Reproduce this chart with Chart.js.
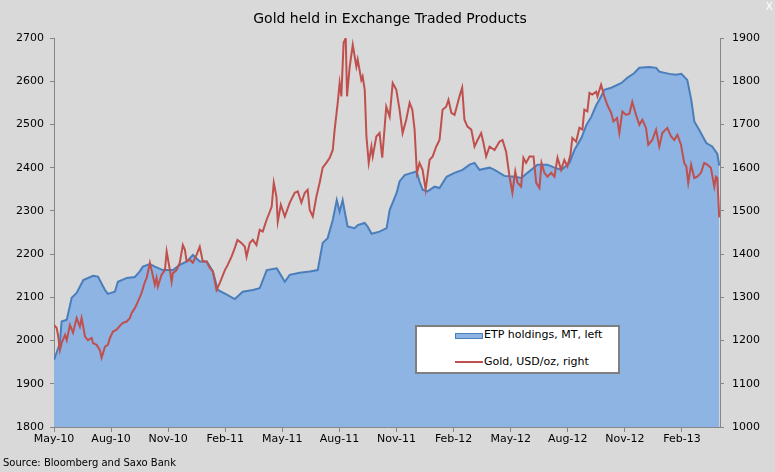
<!DOCTYPE html>
<html>
<head>
<meta charset="utf-8">
<script src="https://cdn.jsdelivr.net/npm/chart.js@4"></script>
<style>
  body { margin: 0; background: #d9d9d9; }
  #wrap { position: relative; width: 775px; height: 472px; background: #d9d9d9; }
  #legend { position: absolute; left: 415px; top: 325px; width: 201px; height: 45px; background: #fff; border: 2px solid #7f7f7f; font: 11px "DejaVu Sans", sans-serif; color: #000; }
  #legend .sw1 { position: absolute; left: 38px; top: 6px; width: 26px; height: 4px; background: #8db4e3; border: 1px solid #4a7ebb; }
  #legend .sw2 { position: absolute; left: 38px; top: 34px; width: 28px; height: 2px; background: #c0504d; }
  #legend .t { position: absolute; left: 67px; white-space: nowrap; }
  #close { position: absolute; right: 2px; top: 0px; font: 11px "DejaVu Sans", sans-serif; color: #fff; }
</style>
</head>
<body>
<div id="wrap">
  <canvas id="canvas" width="775" height="472"></canvas>
  <div id="legend">
    <div class="sw1"></div><div class="t" style="top:1px">ETP holdings, MT, left</div>
    <div class="sw2"></div><div class="t" style="top:28px">Gold, USD/oz, right</div>
  </div>
  <div id="close">X</div>
</div>
<script>
// quarterly axis labels, one every 3 months starting May-10
var tickLabels = ['May-10', 'Aug-10', 'Nov-10', 'Feb-11', 'May-11', 'Aug-11',
                  'Nov-11', 'Feb-12', 'May-12', 'Aug-12', 'Nov-12', 'Feb-13'];

// ETP holdings (MT) - x in months since May-10
var etpMonths = [
  0, 0.31, 0.40, 0.67, 0.93, 1.19, 1.54, 2.05, 2.31, 2.68,
  2.83, 3.20, 3.36, 3.83, 4.25, 4.51, 4.67, 5.04, 5.30, 5.72,
  6.25, 6.61, 6.98, 7.30, 7.66, 8.03, 8.35, 8.61, 9.08, 9.50,
  9.92, 10.45, 10.81, 11.18, 11.71, 12.13, 12.39, 12.91, 13.44, 13.86,
  14.12, 14.38, 14.65, 14.86, 15.01, 15.17, 15.28, 15.43, 15.80, 15.96,
  16.33, 16.48, 16.69, 17.11, 17.48, 17.64, 18.01, 18.16, 18.43, 18.79,
  19.06, 19.21, 19.37, 19.63, 20.00, 20.26, 20.63, 21.05, 21.47, 21.84,
  22.10, 22.36, 22.89, 23.15, 23.67, 24.20, 24.57, 24.88, 25.41, 25.93,
  26.30, 26.67, 27.09, 27.35, 27.72, 27.98, 28.24, 28.50, 28.66, 28.92,
  29.29, 29.82, 30.13, 30.50, 30.76, 31.29, 31.65, 31.81, 32.34, 32.70,
  32.97, 33.28, 33.49, 33.65, 33.91, 34.28, 34.59, 34.86, 34.96
];
var etpValues = [
  1955, 1994, 2044, 2048, 2099, 2110, 2140, 2150, 2148, 2117,
  2108, 2113, 2136, 2145, 2147, 2160, 2171, 2177, 2171, 2163,
  2163, 2175, 2183, 2198, 2183, 2183, 2160, 2117, 2106, 2096,
  2113, 2117, 2121, 2163, 2167, 2136, 2152, 2157, 2160, 2163,
  2226, 2237, 2279, 2325, 2298, 2325, 2298, 2264, 2260, 2267,
  2272, 2264, 2247, 2252, 2260, 2302, 2342, 2368, 2383, 2388,
  2391, 2368, 2349, 2345, 2356, 2353, 2379, 2388, 2395, 2407,
  2411, 2395, 2400, 2395, 2381, 2379, 2376, 2388, 2407, 2407,
  2400, 2395, 2411, 2441, 2469, 2499, 2518, 2545, 2557, 2580,
  2585, 2596, 2608, 2619, 2631, 2633, 2631, 2622, 2617, 2615,
  2617, 2603, 2557, 2507, 2487, 2457, 2449, 2432, 2405
];

// Gold price (USD/oz)
var goldMonths = [
  0, 0.14, 0.21, 0.31, 0.40, 0.58, 0.67, 0.84, 1.00, 1.19,
  1.36, 1.45, 1.52, 1.63, 1.78, 1.98, 2.05, 2.24, 2.41, 2.50,
  2.68, 2.83, 2.94, 3.10, 3.29, 3.46, 3.62, 3.82, 3.99, 4.08,
  4.25, 4.41, 4.60, 4.78, 4.87, 5.04, 5.13, 5.30, 5.39, 5.46,
  5.65, 5.83, 5.92, 5.98, 6.09, 6.18, 6.25, 6.44, 6.61, 6.77,
  6.88, 6.97, 7.14, 7.30, 7.49, 7.66, 7.82, 8.02, 8.19, 8.35,
  8.54, 8.71, 8.98, 9.13, 9.33, 9.50, 9.64, 9.85, 10.03, 10.12,
  10.29, 10.45, 10.64, 10.81, 10.97, 11.17, 11.34, 11.44, 11.55, 11.69,
  11.76, 11.92, 12.13, 12.39, 12.65, 12.81, 13.00, 13.18, 13.33, 13.44,
  13.60, 13.79, 13.96, 14.12, 14.31, 14.49, 14.65, 14.75, 14.91, 15.01,
  15.10, 15.22, 15.33, 15.40, 15.54, 15.70, 15.89, 15.96, 16.15, 16.22,
  16.33, 16.42, 16.54, 16.68, 16.75, 16.94, 17.11, 17.25, 17.46, 17.64,
  17.80, 17.99, 18.16, 18.32, 18.51, 18.69, 18.83, 18.95, 19.07, 19.21,
  19.37, 19.53, 19.74, 19.90, 20.09, 20.26, 20.42, 20.61, 20.73, 20.88,
  21.05, 21.31, 21.45, 21.57, 21.73, 21.93, 22.10, 22.26, 22.45, 22.57,
  22.71, 22.89, 23.15, 23.41, 23.57, 23.76, 23.94, 24.09, 24.24, 24.36,
  24.55, 24.67, 24.81, 24.99, 25.20, 25.34, 25.51, 25.62, 25.77, 25.93,
  26.13, 26.30, 26.46, 26.65, 26.82, 26.98, 27.14, 27.24, 27.44, 27.61,
  27.77, 27.87, 28.03, 28.14, 28.29, 28.49, 28.56, 28.75, 28.92, 29.08,
  29.28, 29.40, 29.59, 29.71, 29.87, 30.06, 30.24, 30.39, 30.59, 30.76,
  30.92, 31.11, 31.23, 31.44, 31.64, 31.81, 31.97, 32.23, 32.43, 32.60,
  32.76, 32.95, 33.12, 33.23, 33.33, 33.48, 33.65, 33.81, 34.00, 34.17,
  34.33, 34.52, 34.70, 34.79, 34.86, 34.96
];
var goldValues = [
  1236, 1229, 1213, 1178, 1194, 1213, 1201, 1236, 1218, 1252,
  1232, 1252, 1236, 1209, 1201, 1206, 1194, 1190, 1178, 1160,
  1186, 1190, 1206, 1221, 1225, 1234, 1241, 1244, 1252, 1264,
  1275, 1290, 1310, 1336, 1345, 1380, 1363, 1329, 1345, 1325,
  1352, 1363, 1406, 1391, 1363, 1336, 1356, 1363, 1380, 1421,
  1410, 1383, 1387, 1380, 1398, 1417, 1383, 1383, 1368, 1360,
  1317, 1333, 1363, 1375, 1394, 1414, 1433, 1426, 1417, 1394,
  1426, 1433, 1421, 1456, 1452, 1479, 1498, 1510, 1565, 1533,
  1475, 1514, 1487, 1519, 1542, 1545, 1519, 1542, 1549, 1502,
  1487, 1533, 1565, 1600, 1611, 1623, 1641, 1688, 1750, 1796,
  1765, 1889, 1900, 1765, 1834, 1884, 1834, 1850, 1803, 1811,
  1780, 1672, 1611, 1649, 1626, 1672, 1680, 1623, 1741, 1718,
  1796, 1780, 1734, 1680, 1711, 1750, 1734, 1688, 1588, 1611,
  1595, 1549, 1618, 1626, 1649, 1664, 1734, 1741, 1757, 1727,
  1722, 1765, 1785, 1711, 1695, 1688, 1649, 1664, 1680, 1657,
  1626, 1649, 1641, 1660, 1664, 1637, 1579, 1542, 1591, 1565,
  1556, 1623, 1611, 1626, 1626, 1565, 1553, 1611, 1588, 1579,
  1588, 1579, 1623, 1595, 1618, 1603, 1630, 1669, 1660, 1692,
  1688, 1734, 1730, 1773, 1769, 1776, 1765, 1792, 1765, 1745,
  1727, 1707, 1715, 1680, 1730, 1722, 1725, 1752, 1722, 1699,
  1711, 1692, 1653, 1664, 1688, 1649, 1680, 1692, 1672, 1664,
  1676, 1653, 1611, 1603, 1565, 1607, 1576, 1579, 1588, 1611,
  1607, 1600, 1556, 1579, 1576, 1485
];

var chartTitle = 'Gold held in Exchange Traded Products';
var sourceText = 'Source: Bloomberg and Saxo Bank';

var axisColor = '#868686';
var tickFont = { family: '"DejaVu Sans", sans-serif', size: 11 };

function toPoints(xs, ys) {
  return xs.map(function (x, i) { return { x: x, y: ys[i] }; });
}

function plainNumber(v) { return String(v); }

var textPlugin = {
  id: 'texts',
  afterDraw: function (chart) {
    var c = chart.ctx;
    c.save();
    c.fillStyle = '#000';
    c.textBaseline = 'middle';
    c.textAlign = 'center';
    c.font = '14px "DejaVu Sans", sans-serif';
    c.fillText(chartTitle, 390, 19);
    c.textAlign = 'left';
    c.font = '10px "DejaVu Sans", sans-serif';
    c.fillText(sourceText, 3, 463);
    c.restore();
  }
};

window.onload = function () {
  var ctx = document.getElementById('canvas').getContext('2d');
  window.myChart = new Chart(ctx, {
    type: 'line',
    data: {
      datasets: [{
        label: 'Gold, USD/oz, right',
        data: toPoints(goldMonths, goldValues),
        yAxisID: 'y1',
        borderColor: '#c0504d',
        borderWidth: 2,
        pointRadius: 0,
        fill: false,
        order: 0
      }, {
        label: 'ETP holdings, MT, left',
        data: toPoints(etpMonths, etpValues),
        yAxisID: 'y',
        borderColor: '#4a7ebb',
        backgroundColor: '#8db4e3',
        borderWidth: 2,
        pointRadius: 0,
        fill: 'start',
        order: 1
      }]
    },
    options: {
      responsive: false,
      animation: false,
      layout: { padding: { top: 38, left: 0, right: 0, bottom: 0 } },
      plugins: {
        legend: { display: false },
        title: { display: false },
        tooltip: { enabled: false }
      },
      scales: {
        x: {
          type: 'linear',
          min: 0,
          max: 35,
          afterBuildTicks: function (s) {
            s.ticks = tickLabels.map(function (l, i) { return { value: i * 3 }; });
          },
          afterFit: function (s) { s.height = 45; },
          ticks: {
            autoSkip: false,
            maxRotation: 0,
            padding: 1,
            color: '#000',
            font: tickFont,
            callback: function (v) { return tickLabels[Math.round(v / 3)]; }
          },
          grid: { display: true, drawOnChartArea: false, drawTicks: true, tickLength: 5, color: axisColor },
          border: { display: true, color: axisColor, width: 1 }
        },
        y: {
          position: 'left',
          min: 1800,
          max: 2700,
          afterFit: function (s) { s.width = 54; },
          ticks: { stepSize: 100, padding: 6, color: '#000', font: tickFont, callback: plainNumber },
          grid: { display: true, drawOnChartArea: false, drawTicks: true, tickLength: 4, color: axisColor },
          border: { display: true, color: axisColor, width: 1 }
        },
        y1: {
          position: 'right',
          min: 1000,
          max: 1900,
          afterFit: function (s) { s.width = 55; },
          ticks: { stepSize: 100, padding: 8, color: '#000', font: tickFont, callback: plainNumber },
          grid: { display: true, drawOnChartArea: false, drawTicks: true, tickLength: 4, color: axisColor },
          border: { display: true, color: axisColor, width: 1 }
        }
      }
    },
    plugins: [textPlugin]
  });
};
</script>
</body>
</html>
